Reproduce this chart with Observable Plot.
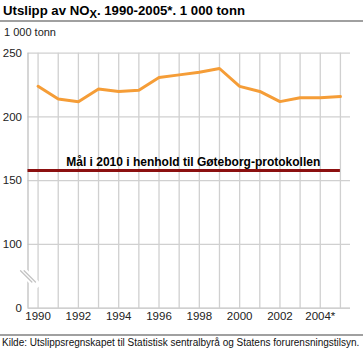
<!DOCTYPE html>
<html><head><meta charset="utf-8">
<script src="https://cdn.jsdelivr.net/npm/d3@7"></script>
<script src="https://cdn.jsdelivr.net/npm/@observablehq/plot@0.6"></script>
<style>
body{margin:0;background:#fff;font-family:"Liberation Sans",Arial,sans-serif;color:#000}
#wrap{position:relative;width:363px;height:353px;overflow:hidden}
#title{position:absolute;left:3px;top:3px;font-size:13.2px;font-weight:bold;white-space:nowrap}
#title .sub{font-size:0.85em;position:relative;top:0.25em}
.rule{position:absolute;left:0;width:363px;height:2px;background:#a0a0a0}
#unit{position:absolute;left:4px;top:26px;font-size:11px;color:#222;white-space:nowrap}
#chart{position:absolute;left:0;top:40px}
#source{position:absolute;left:2px;top:337px;font-size:10px;white-space:nowrap;color:#111}
</style></head><body>
<div id="wrap">
<div id="title">Utslipp av NO<span class="sub">X</span>. 1990-2005*. 1 000 tonn</div>
<div class="rule" style="top:20px"></div>
<div id="unit">1 000 tonn</div>
<div id="chart"></div>
<div class="rule" style="top:334px;height:1.5px"></div>
<div id="source">Kilde: Utslippsregnskapet til Statistisk sentralbyrå og Statens forurensningstilsyn.</div>
</div>
<script>
// Data
const years = [1990,1991,1992,1993,1994,1995,1996,1997,1998,1999,2000,2001,2002,2003,2004,2005];
const values = [224,214,212,222,220,221,231,233,235,238,224,220,212,215,215,216];
const targetValue = [158];
const targetLabel = ["Mål i 2010 i henhold til Gøteborg-protokollen"];
const xTickYears = [1990,1992,1994,1996,1998,2000,2002,2004];
const xTickLabels = ["1990","1992","1994","1996","1998","2000","2002","2004*"];
const yGridValues = [100,150,200,250];
const yTickValues = [50,100,150,200,250];      // 50 = axis-break position drawn as 0
const yTickLabels = ["0","100","150","200","250"];
const axisBreak = [75];

const rows = years.map((y,i)=>({year:y, value:values[i]}));
const x0 = 1989.5;

const plot = Plot.plot({
  width: 363, height: 290,
  marginLeft: 27.5, marginRight: 13, marginTop: 12.7, marginBottom: 22.3,
  style: {fontFamily: '"Liberation Sans",Arial,sans-serif', fontSize: "11.5px", color:"#222", background:"#fff"},
  x: {domain: [x0, 2005.5], axis: null, label: null},
  y: {domain: [50, 250], axis: null, label: null},
  marks: [
    Plot.ruleX(years, {x: d=>d, y1: 50, y2: 250, stroke: "#d0d0d0", strokeWidth: 1.3}),
    Plot.ruleY(yGridValues, {y: d=>d, stroke: "#d0d0d0", strokeWidth: 1.3}),
    Plot.ruleX([x0], {y1: 50, y2: 250, stroke: "#c0c0c0", strokeWidth: 1.3}),
    Plot.ruleY([50], {stroke: "#c0c0c0", strokeWidth: 1.3}),
    // axis break
    Plot.vector(axisBreak, {x: x0, y: d=>d, length: 22, rotate: 135, anchor: "middle", r: 0, stroke: "#fff", strokeWidth: 8}),
    Plot.vector(axisBreak, {x: x0, y: d=>d, length: 16, rotate: 135, anchor: "middle", r: 0, stroke: "#c4c4c4", strokeWidth: 1.3, dx: -1.8}),
    Plot.vector(axisBreak, {x: x0, y: d=>d, length: 16, rotate: 135, anchor: "middle", r: 0, stroke: "#c4c4c4", strokeWidth: 1.3, dx: 1.8}),
    Plot.axisY(yTickValues, {label: null, tickSize: 0, tickPadding: 6, tickFormat: (d)=>yTickLabels[yTickValues.indexOf(d)], fontSize: 11.5, fill:"#222"}),
    Plot.axisX(xTickYears, {label: null, tickSize: 0, tickPadding: 4, tickFormat: (d)=>xTickLabels[xTickYears.indexOf(d)], fontSize: 11.5, fill:"#222"}),
    Plot.ruleY(targetValue, {y: d=>d, x1: x0, x2: 2005, stroke: "#8c1010", strokeWidth: 3}),
    Plot.text(targetLabel, {x: 2004, y: targetValue[0], text: d=>d, textAnchor: "end", lineAnchor: "bottom", dy: -5, fontWeight: "bold", fontSize: 12, fill: "#000"}),
    Plot.line(rows, {x: "year", y: "value", stroke: "#f59d37", strokeWidth: 3, strokeLinejoin: "miter"})
  ]
});
document.getElementById("chart").appendChild(plot);
</script>
</body></html>
